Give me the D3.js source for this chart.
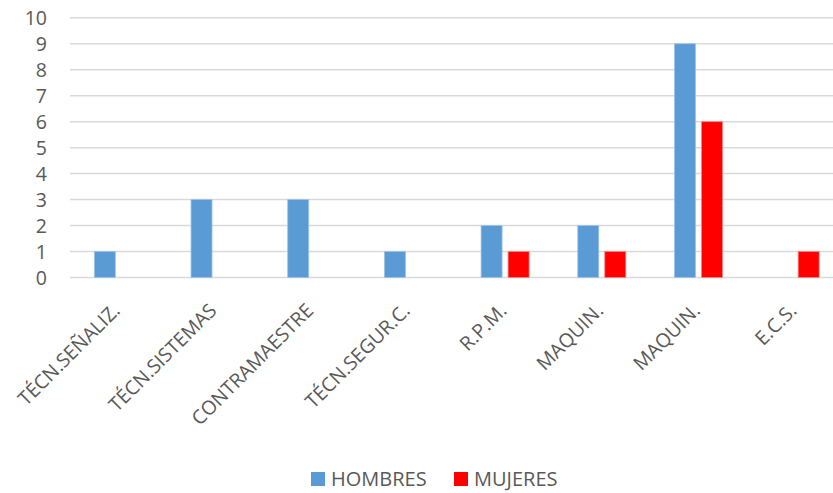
<!DOCTYPE html>
<html><head><meta charset="utf-8">
<script src="https://cdn.jsdelivr.net/npm/d3@7"></script>
<style>body{margin:0;background:#fff;} svg{display:block;}</style>
</head><body><div id="chart"></div>
<script>
const categories = ["TÉCN.SEÑALIZ.","TÉCN.SISTEMAS","CONTRAMAESTRE","TÉCN.SEGUR.C.","R.P.M.","MAQUIN.","MAQUIN.","E.C.S."];
const hombres = [1,3,3,1,2,2,9,0];
const mujeres = [0,0,0,0,1,1,6,1];
const seriesNames = ["HOMBRES","MUJERES"];
const seriesColors = ["#5B9BD5","#FF0000"];
const yTicks = [0,1,2,3,4,5,6,7,8,9,10];

const W = 833, H = 493;
const svg = d3.select("#chart").append("svg").attr("width", W).attr("height", H);
const font = "'Open Sans', sans-serif";

const x = d3.scaleBand().domain(d3.range(categories.length)).range([70, 843.5]);
const y = d3.scaleLinear().domain([0, 10]).range([277.5, 17.8]);

// gridlines
svg.append("g").selectAll("line").data(yTicks).join("line")
  .attr("x1", 70).attr("x2", W)
  .attr("y1", d => y(d)).attr("y2", d => y(d))
  .attr("stroke", "#D9D9D9").attr("stroke-width", 1.5);

// y labels
svg.append("g").selectAll("text").data(yTicks).join("text")
  .attr("x", 47).attr("y", d => y(d)).attr("dy", "0.36em")
  .attr("text-anchor", "end").attr("font-family", font).attr("font-size", 19.5)
  .attr("fill", "#595959").text(d => d);

const barW = 21, gap = 6;
const data = categories.map((c, i) => ({i, vals: [hombres[i], mujeres[i]]}));
data.forEach(d => {
  d.vals.forEach((v, s) => {
    if (v <= 0) return;
    const cx = x(d.i) + x.bandwidth() / 2;
    const bx = s === 0 ? cx - gap/2 - barW : cx + gap/2;
    svg.append("rect")
      .attr("x", bx).attr("y", y(v)).attr("width", barW).attr("height", y(0) - y(v))
      .attr("fill", seriesColors[s])
      .attr("stroke", s === 0 ? "#9DC3E6" : "#FF8080").attr("stroke-width", 0.8);
  });
});

// x labels
svg.append("g").selectAll("text").data(categories).join("text")
  .attr("transform", (d, i) => `translate(${x(i) + x.bandwidth()/2 - 2},${307}) rotate(-45)`)
  .attr("text-anchor", "end").attr("font-family", font).attr("font-size", 19.5)
  .attr("fill", "#595959").attr("dy", "0.35em").text(d => d);

// legend
const leg = [{x: 311, tx: 331}, {x: 454, tx: 474}];
seriesNames.forEach((n, s) => {
  svg.append("rect").attr("x", leg[s].x).attr("y", 472).attr("width", 14).attr("height", 14)
    .attr("fill", seriesColors[s]);
  svg.append("text").attr("x", leg[s].tx).attr("y", 479).attr("dy", "0.36em")
    .attr("font-family", font).attr("font-size", 20).attr("fill", "#595959").text(n);
});
</script></body></html>
